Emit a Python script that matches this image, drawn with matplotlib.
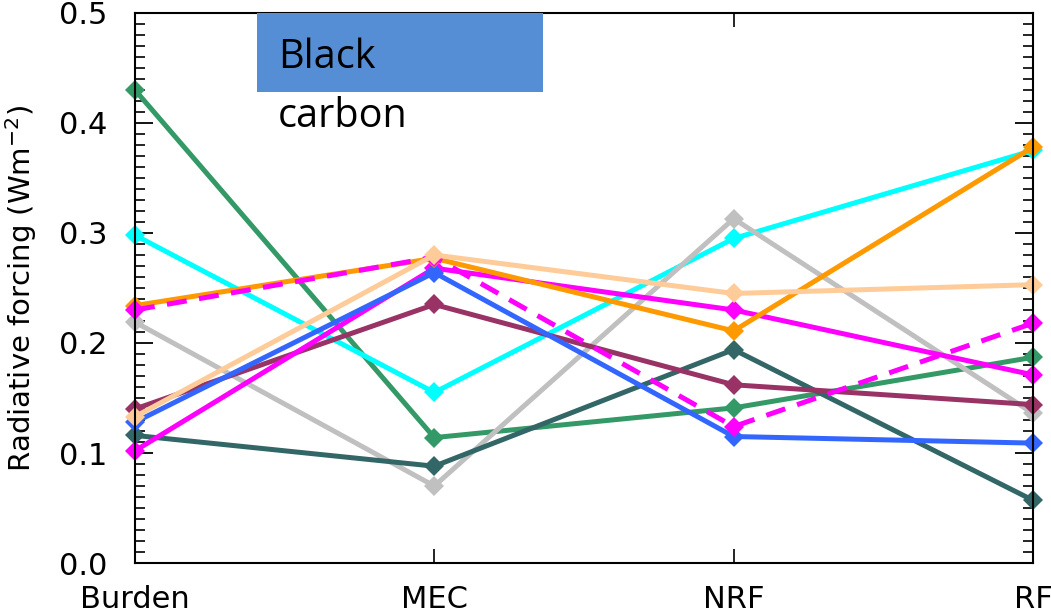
import numpy as np
import matplotlib
matplotlib.use("Agg")
import matplotlib.pyplot as plt
from matplotlib.ticker import MultipleLocator
from matplotlib.patches import Rectangle

# categories on the x axis
categories = ["Burden", "MEC", "NRF", "RF"]
yticks = [0.0, 0.1, 0.2, 0.3, 0.4, 0.5]
ytick_labels = ["0.0", "0.1", "0.2", "0.3", "0.4", "0.5"]

# model values (W m-2)
green = [0.430, 0.114, 0.141, 0.187]
cyan = [0.298, 0.155, 0.295, 0.375]
grey = [0.219, 0.070, 0.313, 0.136]
slate = [0.116, 0.088, 0.194, 0.057]
maroon = [0.140, 0.235, 0.162, 0.144]
magenta = [0.102, 0.268, 0.230, 0.171]
blue = [0.128, 0.264, 0.115, 0.109]
orange = [0.234, 0.277, 0.211, 0.378]
magenta_dash = [0.230, 0.278, 0.124, 0.218]
peach = [0.133, 0.280, 0.245, 0.253]

series = [
    (green, "#339966", "-"),
    (cyan, "#00FFFF", "-"),
    (grey, "#C0C0C0", "-"),
    (slate, "#336666", "-"),
    (maroon, "#993366", "-"),
    (magenta, "#FF00FF", "-"),
    (blue, "#3366FF", "-"),
    (orange, "#FF9900", "-"),
    (magenta_dash, "#FF00FF", "--"),
    (peach, "#FFCC99", "-"),
]

fig = plt.figure(figsize=(10.51, 6.16), dpi=100)
ax = fig.add_axes([0.1284, 0.086, 0.8545, 0.893])

x = np.arange(len(categories))
for vals, col, ls in series:
    line, = ax.plot(x, vals, color=col, lw=3.6, ls=ls, marker="D", ms=10,
                    markeredgewidth=0, clip_on=False)
    if ls == "--":
        line.set_dashes((4, 2.5))

ax.set_xlim(0, 3)
ax.set_ylim(0, 0.5)
ax.set_xticks(x)
ax.set_xticklabels(categories)
ax.set_yticks(yticks)
ax.set_yticklabels(ytick_labels)
ax.yaxis.set_minor_locator(MultipleLocator(0.01))

ax.tick_params(axis="y", which="major", direction="in", length=13, width=1.3,
               left=True, right=True, labelsize=22, pad=20)
ax.tick_params(axis="y", which="minor", direction="in", length=7, width=1.2,
               left=True, right=True)
ax.tick_params(axis="x", which="major", direction="in", length=10, width=1.2,
               top=True, bottom=True, labelsize=22, pad=16)
for s in ax.spines.values():
    s.set_linewidth(1.5)

ax.set_ylabel("Radiative forcing (Wm$^{-2}$)", fontsize=21, labelpad=14)

# "Black carbon" box
ax.add_patch(Rectangle((257, 616 - 92), 286, 79, transform=None,
                       facecolor="#558ED5", edgecolor="none", zorder=5))
fig.text(278 / 1051, 1 - 68 / 616, "Black", fontsize=28.5, family="Open Sans",
         va="baseline", ha="left", zorder=6)
fig.text(278 / 1051, 1 - 127 / 616, "carbon", fontsize=28.5, family="Open Sans",
         va="baseline", ha="left", zorder=6)

fig.savefig("out.png", dpi=100)
